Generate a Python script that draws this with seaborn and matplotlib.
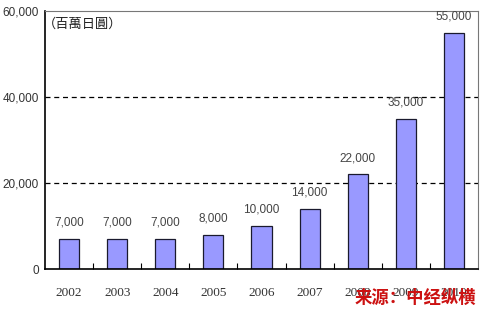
import matplotlib
matplotlib.use("Agg")
import matplotlib.pyplot as plt
import seaborn as sns
import pandas as pd
import numpy as np

years = ["2002", "2003", "2004", "2005", "2006", "2007", "2008", "2009", "2010"]
values = [7000, 7000, 7000, 8000, 10000, 14000, 22000, 35000, 55000]
yticks = [0, 20000, 40000, 60000]
unit_label = "（百萬日圓）"
source_label = "来源：中经纵横"

sns.set_theme(style="white")
plt.rcParams['font.family'] = ['DejaVu Sans', 'Noto Sans CJK TC']

df = pd.DataFrame({"year": years, "value": values})

fig = plt.figure(figsize=(4.81, 3.10), dpi=100)
ax = fig.add_axes([45/481, 1-269/310, 433/481, 258/310])

sns.barplot(data=df, x="year", y="value", ax=ax, color="#9999ff",
            saturation=1, width=0.42, edgecolor="#1a1a2e", linewidth=0.9)

ax.set_ylim(0, 60000)
ax.set_xlim(-0.5, len(years) - 0.5)
ax.set_yticks(yticks)
ax.set_yticklabels([f"{v:,}" for v in yticks], fontsize=8.5, color="#333333",
                   family="Liberation Sans")
ax.set_xticks(range(len(years)))
ax.set_xticklabels(years, fontsize=9.5, color="#333333", family="Liberation Serif")
ax.set_xlabel("")
ax.set_ylabel("")

for y in [20000, 40000]:
    ax.axhline(y, color="black", linestyle=(0, (4, 3)), linewidth=0.9, zorder=0)

ax.set_xticks(np.arange(0.5, len(years) - 1, 1), minor=True)
ax.tick_params(axis="x", which="minor", direction="in", length=4, width=0.8,
               color="black", bottom=True)
ax.tick_params(axis="x", which="major", length=0, pad=13)
ax.tick_params(axis="y", which="major", length=0, pad=4.5)

for i, v in enumerate(values):
    ax.text(i, v + 2400, f"{v:,}", ha="center", va="bottom", fontsize=8.5,
            color="#444444", family="Liberation Sans")

for side in ["left", "bottom"]:
    ax.spines[side].set_color("black")
    ax.spines[side].set_linewidth(1.2)
for side in ["top", "right"]:
    ax.spines[side].set_color("#777777")
    ax.spines[side].set_linewidth(0.8)

ax.text(-0.005, 0.975, unit_label, transform=ax.transAxes, ha="left", va="top",
        fontsize=9.5, color="#222222",
        family=["Noto Sans CJK TC", "DejaVu Sans"])

fig.text(476/481, 1-298/310, source_label, ha="right", va="center",
         fontsize=12.5, fontweight="bold", color="#cc1111",
         family=["Noto Sans CJK SC", "DejaVu Sans"])

fig.savefig("out.png", dpi=100)
